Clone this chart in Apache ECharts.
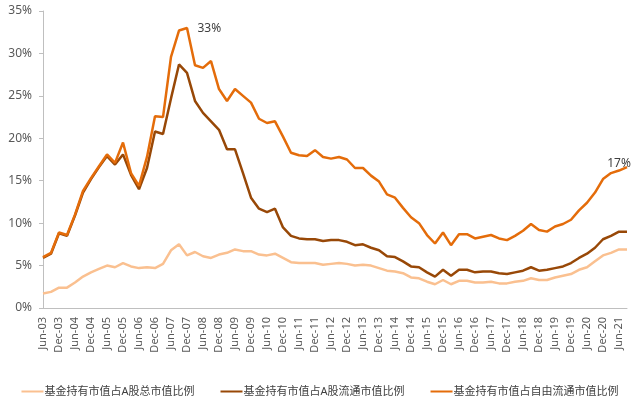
<!DOCTYPE html>
<html>
<head>
<meta charset="utf-8">
<script src="https://cdn.jsdelivr.net/npm/echarts@6/dist/echarts.min.js"></script>
<style>html,body{margin:0;padding:0;background:#fff}#c{width:640px;height:405px}</style>
</head>
<body>
<div id="c"></div>
<script>
const categories = [
 'Jun-03','Sep-03','Dec-03','Mar-04','Jun-04','Sep-04','Dec-04','Mar-05','Jun-05','Sep-05','Dec-05','Mar-06',
 'Jun-06','Sep-06','Dec-06','Mar-07','Jun-07','Sep-07','Dec-07','Mar-08','Jun-08','Sep-08','Dec-08','Mar-09',
 'Jun-09','Sep-09','Dec-09','Mar-10','Jun-10','Sep-10','Dec-10','Mar-11','Jun-11','Sep-11','Dec-11','Mar-12',
 'Jun-12','Sep-12','Dec-12','Mar-13','Jun-13','Sep-13','Dec-13','Mar-14','Jun-14','Sep-14','Dec-14','Mar-15',
 'Jun-15','Sep-15','Dec-15','Mar-16','Jun-16','Sep-16','Dec-16','Mar-17','Jun-17','Sep-17','Dec-17','Mar-18',
 'Jun-18','Sep-18','Dec-18','Mar-19','Jun-19','Sep-19','Dec-19','Mar-20','Jun-20','Sep-20','Dec-20','Mar-21',
 'Jun-21','Sep-21'
];
const seriesNames = ['基金持有市值占A股总市值比例','基金持有市值占A股流通市值比例','基金持有市值占自由流通市值比例'];
const totalShare = [
 1.7,1.9,2.4,2.4,3.0,3.7,4.2,4.6,5.0,4.8,5.3,4.9,
 4.7,4.8,4.7,5.2,6.8,7.5,6.2,6.6,6.1,5.9,6.3,6.5,
 6.9,6.7,6.7,6.3,6.2,6.4,5.9,5.4,5.3,5.3,5.3,5.1,
 5.2,5.3,5.2,5.0,5.1,5.0,4.7,4.4,4.3,4.1,3.6,3.5,
 3.1,2.8,3.3,2.8,3.2,3.2,3.0,3.0,3.1,2.9,2.9,3.1,
 3.2,3.5,3.3,3.3,3.6,3.8,4.0,4.5,4.8,5.5,6.2,6.5,
 6.9,6.9
];
const floatShare = [
 5.9,6.4,8.8,8.5,10.9,13.6,15.2,16.6,17.9,16.9,18.1,15.7,
 14.0,16.5,20.8,20.5,24.7,28.7,27.7,24.4,23.0,22.0,21.0,18.7,
 18.7,15.9,13.0,11.7,11.3,11.7,9.5,8.5,8.2,8.1,8.1,7.9,
 8.0,8.0,7.8,7.4,7.5,7.1,6.8,6.1,6.0,5.5,4.9,4.8,
 4.2,3.7,4.5,3.8,4.5,4.5,4.2,4.3,4.3,4.1,4.0,4.2,
 4.4,4.8,4.4,4.5,4.7,4.9,5.3,5.9,6.4,7.1,8.1,8.5,
 9.0,9.0
];
const freeFloatShare = [
 6.0,6.5,8.9,8.6,11.0,13.8,15.3,16.7,18.1,17.1,19.5,15.9,
 14.4,17.8,22.6,22.5,29.6,32.7,33.0,28.6,28.3,29.1,25.8,24.4,
 25.8,25.0,24.2,22.3,21.8,22.0,20.2,18.3,18.0,17.9,18.6,17.8,
 17.6,17.8,17.5,16.5,16.5,15.6,14.9,13.4,13.0,11.8,10.7,10.0,
 8.6,7.6,8.9,7.4,8.7,8.7,8.2,8.4,8.6,8.2,8.0,8.5,
 9.1,9.9,9.2,9.0,9.6,9.9,10.4,11.5,12.4,13.6,15.2,15.9,
 16.2,16.6
];
const annotationIdx = [18, 73];
const annotationText = ['33%', '17%'];

const colors = ['#FAC090','#984807','#E46C0A'];
const font = "'Noto Sans','Noto Sans CJK SC',sans-serif";

const markData = annotationIdx.map((idx, k) => {
  const isLast = idx === freeFloatShare.length - 1;
  return {
    coord: [categories[idx], freeFloatShare[idx]],
    value: annotationText[k],
    label: {
      position: isLast ? 'top' : 'right',
      distance: isLast ? 0 : 10,
      offset: isLast ? [-8, 3] : [0, 1]
    }
  };
});

const chart = echarts.init(document.getElementById('c'), null, {renderer: 'canvas'});
chart.setOption({
  animation: false,
  backgroundColor: '#ffffff',
  color: colors,
  grid: {left: 43, right: 13, top: 11, bottom: 97},
  legend: {
    bottom: 3,
    left: 'center',
    icon: 'rect',
    itemWidth: 22,
    itemHeight: 2,
    itemGap: 26,
    textStyle: {fontSize: 11, color: '#404040', fontFamily: font, padding: [0,0,0,-4]},
    data: seriesNames
  },
  xAxis: {
    type: 'category',
    data: categories,
    boundaryGap: false,
    axisLine: {lineStyle: {color: '#BFBFBF', width: 1}},
    axisTick: {show: false},
    axisLabel: {interval: 1, rotate: 90, fontSize: 11, color: '#595959', fontFamily: font, margin: 9}
  },
  yAxis: {
    type: 'value',
    min: 0, max: 35, interval: 5,
    axisLine: {show: true, lineStyle: {color: '#BFBFBF', width: 1}},
    axisTick: {show: true, length: 4, lineStyle: {color: '#BFBFBF'}},
    splitLine: {show: false},
    axisLabel: {formatter: '{value}%', fontSize: 12, color: '#595959', fontFamily: font, margin: 11}
  },
  series: [
    {name: seriesNames[0], type: 'line', data: totalShare, showSymbol: false, symbol: 'none', lineStyle: {width: 2.5, color: colors[0]}, z: 2},
    {name: seriesNames[1], type: 'line', data: floatShare, showSymbol: false, symbol: 'none', lineStyle: {width: 2.5, color: colors[1]}, z: 3},
    {name: seriesNames[2], type: 'line', data: freeFloatShare, showSymbol: false, symbol: 'none', lineStyle: {width: 2.5, color: colors[2]}, z: 4,
     markPoint: {
       symbol: 'circle',
       symbolSize: 1,
       itemStyle: {color: 'rgba(0,0,0,0)'},
       label: {show: true, formatter: '{c}', color: '#404040', fontSize: 12, fontFamily: font},
       data: markData
     }}
  ]
});
</script>
</body>
</html>
